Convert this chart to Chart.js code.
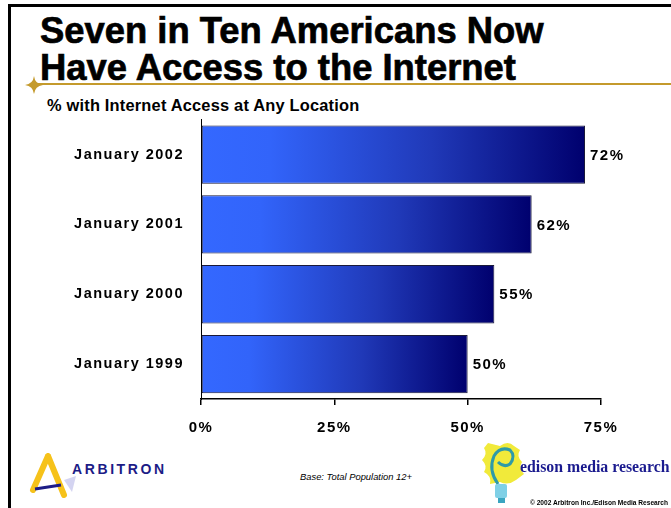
<!DOCTYPE html>
<html>
<head>
<meta charset="utf-8">
<script src="https://cdn.jsdelivr.net/npm/chart.js@4.4.1/dist/chart.umd.min.js"></script>
<style>
  html, body { margin: 0; padding: 0; background: #fff; }
  #page { position: relative; width: 671px; height: 508px; overflow: hidden; background: #fff;
          font-family: "Liberation Sans", Arial, sans-serif; }
  .frame-top { position: absolute; left: 8px; top: 4px; width: 680px; height: 3px; background: #000; }
  .frame-left { position: absolute; left: 8px; top: 4px; width: 3px; height: 520px; background: #000; }
  .rule { position: absolute; left: 34px; top: 83px; width: 640px; height: 2px; background: #c49a2c; }
  .title { position: absolute; left: 40px; top: 13px; font-weight: bold; font-size: 36.4px;
           line-height: 36.5px; color: #000; white-space: nowrap; -webkit-text-stroke: 0.7px #000; }
  .subtitle { position: absolute; left: 47px; top: 96px; font-weight: bold; font-size: 16.4px;
              color: #000; white-space: nowrap; letter-spacing: 0.2px; }
  #wrap { position: absolute; left: 0; top: 94px; width: 671px; height: 351px; }
  .base { position: absolute; left: 300px; top: 471px; font-style: italic; font-size: 9.4px; color: #000; }
  .copy { position: absolute; left: 530px; top: 499px; font-weight: bold; font-size: 6.6px; color: #000; white-space: nowrap; }
  .arb { position: absolute; left: 72px; top: 461px; font-weight: bold; font-size: 14px; letter-spacing: 2.6px;
         color: #1c1c86; }
  .edison { position: absolute; left: 520px; top: 458px; font-family: "Liberation Serif", "Times New Roman", serif;
            font-weight: bold; font-size: 15.8px; color: #1a1a8e; white-space: nowrap; }
  svg { position: absolute; }
</style>
</head>
<body>
<div id="page">
  <div class="frame-top"></div>
  <div class="frame-left"></div>
  <div class="rule"></div>
  <svg style="left:24px;top:75px" width="20" height="20" viewBox="0 0 20 20">
    <!-- four point star on the rule -->
    <path d="M10 1 Q11 9 19 10 Q11 11 10 19 Q9 11 1 10 Q9 9 10 1 Z" fill="#c49a2c"/>
  </svg>
  <div class="title">Seven in Ten Americans Now<br>Have Access to the Internet</div>
  <div class="subtitle">% with Internet Access at Any Location</div>

  <div id="wrap"><canvas id="chart"></canvas></div>

  <!-- Arbitron mark -->
  <svg style="left:28px;top:452px" width="50" height="48" viewBox="0 0 50 48">
    <polygon points="36,28 48,24 44,40" fill="#c9c9ee" opacity="0.8"/>
    <path d="M20 4 L5 38 M20 4 L36 43" stroke="#f6c21a" stroke-width="6" stroke-linecap="round" fill="none"/>
    <path d="M7 37 L33 33" stroke="#1c1c86" stroke-width="3"/>
  </svg>
  <div class="arb">ARBITRON</div>
  <div class="base">Base: Total Population 12+</div>

  <!-- Edison bulb mark -->
  <svg style="left:480px;top:440px" width="45" height="66" viewBox="0 0 45 66">
    <path d="M8 3 L20 6 Q28 0 34 6 L40 10 Q36 16 42 22 Q38 28 44 34 L36 40 Q28 46 20 42 L10 44 Q12 36 4 32 Q8 26 2 20 Q8 14 4 8 Z" fill="#f1ea3a"/>
    <path d="M18 44 Q8 30 14 16 Q20 6 30 10 Q36 16 30 24 Q24 28 18 22" stroke="#2e9aa8" stroke-width="3" fill="none"/>
    <path d="M18 44 L20 58" stroke="#2e9aa8" stroke-width="3"/>
    <rect x="15" y="44" width="12" height="14" rx="2" fill="#7fd0e6"/>
    <rect x="18" y="58" width="7" height="5" fill="#3aa5c0"/>
  </svg>
  <div class="edison">edison media research</div>
  <div class="copy">© 2002 Arbitron Inc./Edison Media Research</div>
</div>

<script>
var categories = ['January 2002', 'January 2001', 'January 2000', 'January 1999'];
var accessPct = [72, 62, 55, 50];
var tickValues = [0, 25, 50, 75];

var LABEL_FONT = { family: '"Liberation Sans", Arial, sans-serif', size: 14.5, weight: 'bold' };
var VALUE_FONT = { family: '"Liberation Sans", Arial, sans-serif', size: 15, weight: 'bold' };

// Chart.js has no letter spacing option, so set it on the canvas state
var spacingPlugin = {
    id: 'spacing',
    beforeUpdate: function(chart) { chart.ctx.letterSpacing = '1.5px'; },
    beforeDraw: function(chart) { chart.ctx.letterSpacing = '1.5px'; }
};

// Value labels just past the end of each bar
var valueLabels = {
    id: 'valueLabels',
    afterDatasetsDraw: function(chart) {
        var ctx = chart.ctx;
        var meta = chart.getDatasetMeta(0);
        ctx.save();
        ctx.font = 'bold 15px "Liberation Sans", Arial, sans-serif';
        ctx.fillStyle = '#000';
        ctx.textAlign = 'left';
        ctx.textBaseline = 'middle';
        meta.data.forEach(function(bar, i) {
            ctx.fillText(accessPct[i] + '%', bar.x + 5, bar.y + 1);
        });
        ctx.restore();
    }
};

function barGradient(c) {
    var chart = c.chart;
    if (!chart.chartArea || c.type !== 'data') {
        return '#2a4fd6';
    }
    var x0 = chart.scales.x.getPixelForValue(0);
    var x1 = chart.scales.x.getPixelForValue(c.raw);
    var g = chart.ctx.createLinearGradient(x0, 0, x1, 0);
    g.addColorStop(0, '#3468ff');
    g.addColorStop(0.18, '#3264fa');
    g.addColorStop(0.6, '#2039b8');
    g.addColorStop(1, '#00006e');
    return g;
}

new Chart(document.getElementById('chart'), {
    type: 'bar',
    data: {
        labels: categories,
        datasets: [{
            data: accessPct,
            backgroundColor: barGradient,
            borderColor: '#1a1a3a',
            borderWidth: 1,
            borderSkipped: false,
            barPercentage: 0.835,
            categoryPercentage: 1
        }]
    },
    options: {
        indexAxis: 'y',
        responsive: true,
        maintainAspectRatio: false,
        animation: false,
        devicePixelRatio: 1,
        layout: { padding: { top: 10, right: 70, left: 0, bottom: 0 } },
        plugins: {
            legend: { display: false },
            tooltip: { enabled: false }
        },
        scales: {
            x: {
                min: 0,
                max: 75,
                afterBuildTicks: function(scale) {
                    scale.ticks = tickValues.map(function(v) { return { value: v }; });
                },
                afterFit: function(scale) { scale.height = 46; },
                border: { display: true, color: '#000', width: 1.5 },
                grid: { drawOnChartArea: false, drawTicks: true, tickLength: 6, color: '#000', lineWidth: 1.5 },
                ticks: {
                    color: '#000',
                    font: VALUE_FONT,
                    padding: 14,
                    callback: function(v) { return v + '%'; }
                }
            },
            y: {
                afterFit: function(scale) { scale.width = 201; },
                border: { display: true, color: '#000', width: 1 },
                grid: { display: false, drawTicks: false },
                ticks: { color: '#000', font: LABEL_FONT, padding: 17 }
            }
        }
    },
    plugins: [spacingPlugin, valueLabels]
});
</script>
</body>
</html>
